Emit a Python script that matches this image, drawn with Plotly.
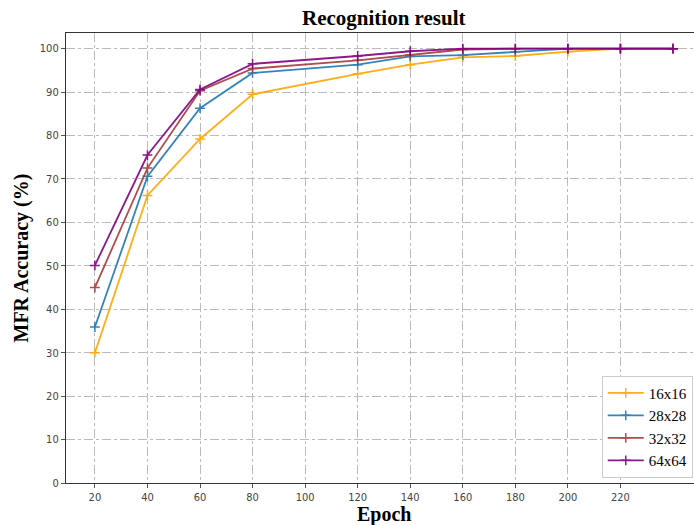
import plotly.graph_objects as go

epochs = [20, 40, 60, 80, 120, 140, 160, 180, 200, 220, 240]
acc_16 = [30.0, 66.2, 79.2, 89.5, 94.2, 96.3, 98.0, 98.3, 99.3, 100.0, 100.0]
acc_28 = [35.9, 70.6, 86.3, 94.4, 96.3, 98.2, 98.5, 99.3, 100.0, 100.0, 100.0]
acc_32 = [45.0, 72.5, 90.3, 95.4, 97.3, 98.6, 99.8, 100.0, 100.0, 100.0, 100.0]
acc_64 = [50.1, 75.5, 90.6, 96.5, 98.3, 99.4, 100.0, 100.0, 100.0, 100.0, 100.0]
names = ["16x16", "28x28", "32x32", "64x64"]
colors = ["#FFA500", "#1f77b4", "#A83A3A", "#800080"]
x_ticks = [20, 40, 60, 80, 100, 120, 140, 160, 180, 200, 220]
y_ticks = [0, 10, 20, 30, 40, 50, 60, 70, 80, 90, 100]

fig = go.Figure()
for name, vals, col in zip(names, [acc_16, acc_28, acc_32, acc_64], colors):
    fig.add_trace(go.Scatter(
        x=epochs, y=vals, name=name, mode="lines+markers",
        line=dict(color=col, width=1.8),
        marker=dict(symbol="cross-thin", size=7, line=dict(color=col, width=1.5)),
        opacity=0.9,
    ))

serif = "Liberation Serif, Times New Roman, serif"
fig.update_layout(
    width=694, height=525,
    margin=dict(l=66, r=0, t=33, b=42),
    paper_bgcolor="white", plot_bgcolor="white",
    showlegend=True,
    legend=dict(
        x=0.998, y=0.012, xanchor="right", yanchor="bottom",
        bgcolor="white", bordercolor="#cccccc", borderwidth=1,
        font=dict(family=serif, size=15, color="black"),
        tracegroupgap=0, itemwidth=36,
    ),
    annotations=[
        dict(text="<b>Recognition result</b>", xref="paper", yref="paper",
             x=0.5056, y=1, xanchor="center", yanchor="bottom", yshift=1,
             showarrow=False, font=dict(family=serif, size=21, color="black")),
        dict(text="<b>Epoch</b>", xref="paper", yref="paper",
             x=0.5056, y=0, xanchor="center", yanchor="top", yshift=-19,
             borderpad=0,
             showarrow=False, font=dict(family=serif, size=20, color="black")),
        dict(text="<b>MFR Accuracy (%)</b>", xref="paper", yref="paper",
             x=0, y=0.5, xanchor="right", yanchor="middle", xshift=-32,
             textangle=-90,
             showarrow=False, font=dict(family=serif, size=20, color="black")),
    ],
)
fig.update_xaxes(
    range=[9, 248], tickvals=x_ticks, ticktext=[str(v) for v in x_ticks],
    showgrid=True, gridcolor="#bbbbbb", griddash="dashdot", gridwidth=1,
    showline=True, linecolor="#333333", linewidth=1.2, mirror=True,
    ticks="outside", ticklen=4, tickcolor="#555555",
    tickfont=dict(family="DejaVu Sans Condensed, DejaVu Sans", size=11, color="#444444"),
    zeroline=False,
)
fig.update_yaxes(
    range=[0, 103.6], tickvals=y_ticks,
    showgrid=True, gridcolor="#bbbbbb", griddash="dashdot", gridwidth=1,
    showline=True, linecolor="#333333", linewidth=1.2, mirror=False,
    ticks="outside", ticklen=4, tickcolor="#555555",
    tickfont=dict(family="DejaVu Sans Condensed, DejaVu Sans", size=11, color="#444444"),
    zeroline=False,
)
fig.write_html("out.html")
